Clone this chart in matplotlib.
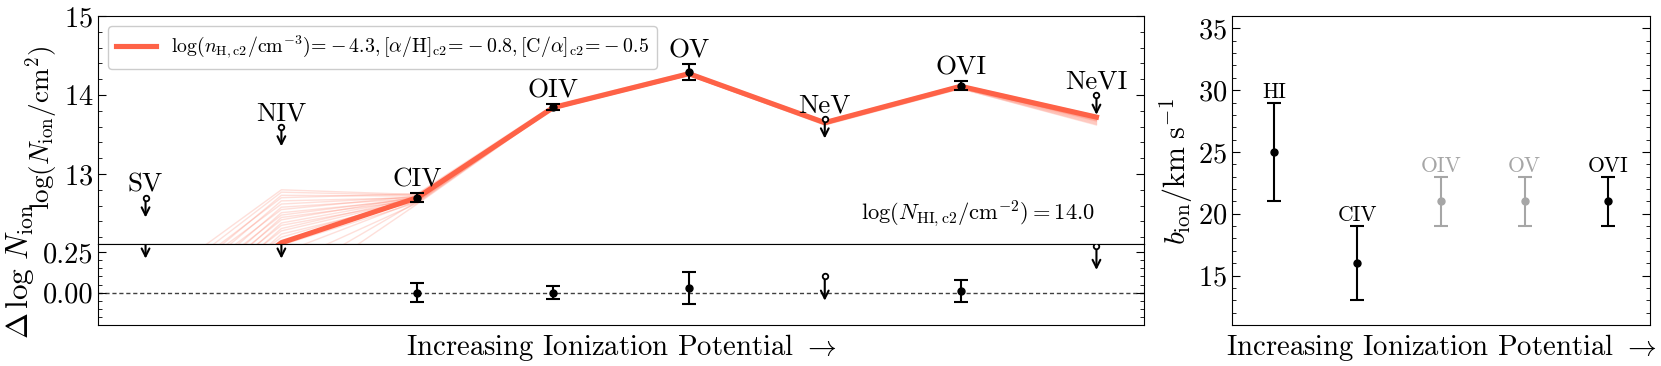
import numpy as np
import matplotlib.pyplot as plt
from matplotlib.patches import FancyArrowPatch
from matplotlib.ticker import MultipleLocator, FormatStrFormatter

plt.rcParams['font.family'] = 'serif'
plt.rcParams['font.serif'] = ['cmr10']
plt.rcParams['mathtext.fontset'] = 'cm'
plt.rcParams['axes.formatter.use_mathtext'] = True

# column densities
ions = ['SV', 'NIV', 'CIV', 'OIV', 'OV', 'NeV', 'OVI', 'NeVI']
logN = [12.70, 13.60, 12.70, 13.85, 14.29, 13.70, 14.12, 14.00]
logN_err = [0, 0, 0.06, 0.04, 0.10, 0, 0.06, 0]
uplim = [True, True, False, False, False, True, False, True]

# best model and residuals
model_best = [10.90, 12.13, 12.70, 13.84, 14.27, 13.65, 14.11, 13.72]
resid = [0.36, 0.36, 0.00, 0.00, 0.03, 0.10, 0.01, 0.29]
resid_err = [0, 0, 0.06, 0.04, 0.10, 0, 0.07, 0]

# posterior model samples, one list per ion
smp_sv = [11.55, 11.45, 11.30, 11.40, 11.20, 11.35, 11.10, 11.25, 11.00, 11.15, 10.90, 11.05,
          10.85, 11.00, 10.80, 10.95, 10.70, 10.90, 10.80, 10.60, 10.70, 10.50, 10.40, 10.30]
smp_niv = [12.80, 12.77, 12.73, 12.70, 12.66, 12.62, 12.58, 12.55, 12.51, 12.48, 12.45, 12.42,
           12.38, 12.35, 12.31, 12.28, 12.24, 12.20, 12.16, 12.10, 12.00, 11.85, 11.65, 11.45]
smp_civ = [12.74, 12.73, 12.72, 12.75, 12.70, 12.71, 12.69, 12.72, 12.68, 12.70, 12.67, 12.71,
           12.69, 12.66, 12.70, 12.68, 12.65, 12.69, 12.67, 12.64, 12.66, 12.63, 12.65, 12.62]
smp_oiv = [13.86, 13.85, 13.84, 13.87, 13.83, 13.85, 13.84, 13.86, 13.82, 13.85, 13.83, 13.84,
           13.86, 13.83, 13.85, 13.84, 13.82, 13.85, 13.84, 13.83, 13.86, 13.84, 13.85, 13.83]
smp_ov = [14.28, 14.27, 14.26, 14.29, 14.25, 14.27, 14.26, 14.28, 14.25, 14.27, 14.26, 14.27,
          14.28, 14.26, 14.27, 14.26, 14.25, 14.27, 14.28, 14.26, 14.27, 14.25, 14.26, 14.27]
smp_nev = [13.66, 13.65, 13.64, 13.67, 13.63, 13.65, 13.64, 13.66, 13.62, 13.65, 13.64, 13.65,
           13.66, 13.63, 13.65, 13.64, 13.62, 13.65, 13.66, 13.64, 13.65, 13.63, 13.64, 13.65]
smp_ovi = [14.12, 14.11, 14.10, 14.13, 14.09, 14.11, 14.10, 14.12, 14.08, 14.11, 14.10, 14.11,
           14.12, 14.09, 14.11, 14.10, 14.08, 14.11, 14.12, 14.10, 14.11, 14.09, 14.10, 14.11]
smp_nevi = [13.73, 13.71, 13.69, 13.74, 13.66, 13.70, 13.68, 13.72, 13.63, 13.70, 13.67, 13.71,
            13.73, 13.65, 13.70, 13.68, 13.62, 13.71, 13.72, 13.67, 13.70, 13.64, 13.69, 13.71]

legend_label = (r'$\log(n_{\rm H,c2}/{\rm cm}^{-3})\!=\!-4.3,[\alpha/{\rm H}]_{\rm c2}\!=\!-0.8,'
                r'[{\rm C}/\alpha]_{\rm c2}\!=\!-0.5$')
nhi_label = r'$\log(N_{\rm HI,c2}/{\rm cm}^{-2}) = 14.0$'

# Doppler parameters
b_ions = ['HI', 'CIV', 'OIV', 'OV', 'OVI']
b_val = [25, 16, 21, 21, 21]
b_err = [4, 3, 2, 2, 2]
b_col = ['k', 'k', '0.65', '0.65', 'k']

red = '#fe6247'
W, H = 1661, 366
fig = plt.figure(figsize=(W / 100, H / 100), dpi=100)
ax1 = fig.add_axes([98 / W, 1 - 244 / H, 1046 / W, 228 / H])
ax2 = fig.add_axes([98 / W, 1 - 325 / H, 1046 / W, 81 / H])
ax3 = fig.add_axes([1232 / W, 1 - 325 / H, 418 / W, 309 / H])

x = np.arange(len(ions))
samples = np.array([smp_sv, smp_niv, smp_civ, smp_oiv, smp_ov, smp_nev, smp_ovi, smp_nevi]).T

# top panel
for s in samples:
    ax1.plot(x, s, color=red, lw=1, alpha=0.2, zorder=1)
ax1.plot(x, model_best, color=red, lw=3.7, zorder=2, label=legend_label)

for i in range(len(ions)):
    if uplim[i]:
        ax1.plot(x[i], logN[i], 'o', ms=4, mfc='white', mec='k', mew=1.3, zorder=5)
        ax1.add_patch(FancyArrowPatch((x[i], logN[i]), (x[i], logN[i] - 0.25),
                                      arrowstyle='->', mutation_scale=14, lw=1.5,
                                      color='k', zorder=4, shrinkA=0, shrinkB=0))
        top = logN[i]
    else:
        ax1.errorbar(x[i], logN[i], yerr=logN_err[i], fmt='o', ms=5, color='k',
                     capsize=5, elinewidth=1.5, capthick=1.5, zorder=5)
        top = logN[i] + logN_err[i]
    ax1.text(x[i], top + 0.08, ions[i], ha='center', va='baseline', fontsize=19.5, zorder=6)

ax1.text(0.953, 0.135, nhi_label, transform=ax1.transAxes, ha='right', va='center',
         fontsize=16.2)
leg = ax1.legend(loc='upper left', fontsize=14.3, framealpha=1, edgecolor='0.8',
                 borderaxespad=0.5)
leg.set_zorder(4)
ax1.set_xlim(-0.35, 7.35)
ax1.set_ylim(12.114, 15)
ax1.yaxis.set_major_locator(MultipleLocator(1))
ax1.yaxis.set_minor_locator(MultipleLocator(0.2))
ax1.tick_params(which='both', direction='in', right=True, bottom=False,
                labelbottom=False, labelsize=20.5)
ax1.tick_params(which='major', length=6)
ax1.tick_params(which='minor', length=3)

# residual panel
ax2.axhline(0, color='0.25', lw=1, ls=(0, (3, 2)), zorder=0)
for i in range(len(ions)):
    if uplim[i]:
        ax2.plot(x[i], resid[i], 'o', ms=4, mfc='white', mec='k', mew=1.3, zorder=5)
        ax2.add_patch(FancyArrowPatch((x[i], resid[i]), (x[i], resid[i] - 0.15),
                                      arrowstyle='->', mutation_scale=14, lw=1.5,
                                      color='k', zorder=4, shrinkA=0, shrinkB=0))
    else:
        ax2.errorbar(x[i], resid[i], yerr=resid_err[i], fmt='o', ms=5, color='k',
                     capsize=5, elinewidth=1.5, capthick=1.5, zorder=5)
ax2.set_xlim(-0.35, 7.35)
ax2.set_ylim(-0.2, 0.3)
ax2.yaxis.set_major_locator(MultipleLocator(0.25))
ax2.yaxis.set_minor_locator(MultipleLocator(0.05))
ax2.yaxis.set_major_formatter(FormatStrFormatter('%.2f'))
ax2.tick_params(which='both', direction='in', right=True, bottom=False,
                labelbottom=False, labelsize=20.5)
ax2.tick_params(which='major', length=6)
ax2.tick_params(which='minor', length=3)
ax2.set_xlabel(r'Increasing Ionization Potential $\rightarrow$', fontsize=20.7, labelpad=5)

# b panel
xb = np.arange(len(b_ions))
for i in range(len(b_ions)):
    ax3.errorbar(xb[i], b_val[i], yerr=b_err[i], fmt='o', ms=5, color=b_col[i],
                 capsize=5, elinewidth=1.5, capthick=1.5)
    ax3.text(xb[i], b_val[i] + b_err[i] + 0.4, b_ions[i], ha='center', va='baseline',
             fontsize=15.5, color=b_col[i])
ax3.set_xlim(-0.5, 4.5)
ax3.set_ylim(11, 36)
ax3.yaxis.set_major_locator(MultipleLocator(5))
ax3.yaxis.set_minor_locator(MultipleLocator(1))
ax3.tick_params(which='both', direction='in', right=True, bottom=False,
                labelbottom=False, labelsize=20.5)
ax3.tick_params(which='major', length=6)
ax3.tick_params(which='minor', length=3)
ax3.set_xlabel(r'Increasing Ionization Potential $\rightarrow$', fontsize=20.7, labelpad=5)

fig.text(42 / W, 1 - 128 / H, r'$\log(N_{\rm ion}/{\rm cm}^2)$', rotation=90,
         ha='center', va='center', fontsize=19.5)
fig.text(20 / W, 1 - 271 / H, r'$\Delta\,\log\,N_{\rm ion}$', rotation=90,
         ha='center', va='center', fontsize=22.5)
fig.text(1176 / W, 1 - 172 / H, r'$b_{\rm ion}/{\rm km\ s}^{-1}$', rotation=90,
         ha='center', va='center', fontsize=21.5)

fig.savefig('out.png', dpi=100)
